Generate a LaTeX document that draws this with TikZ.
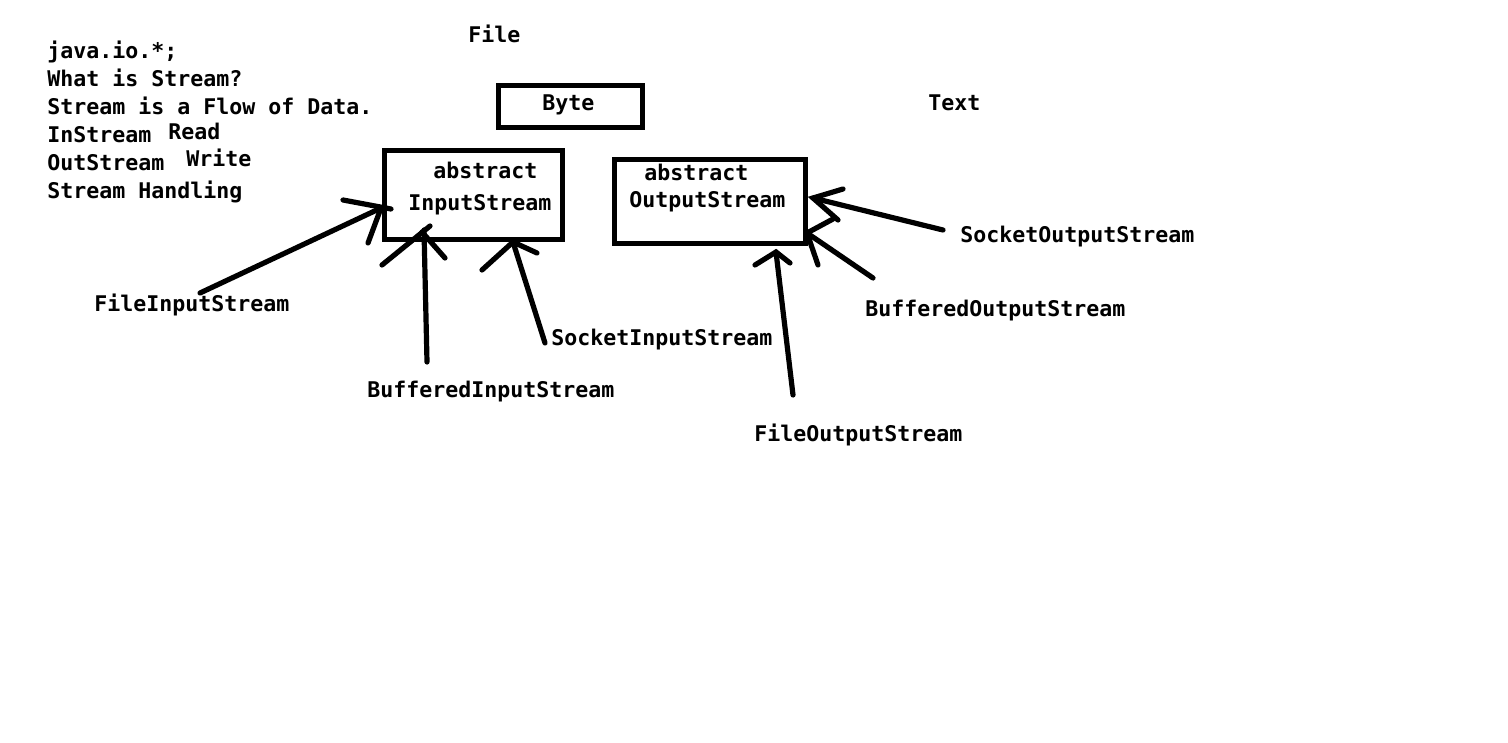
\documentclass[tikz,border=0pt]{standalone}
\usepackage{fontspec}
\setmainfont{DejaVu Sans Mono}
\begin{document}
\begin{tikzpicture}[x=0.75pt,y=-0.75pt,
  txt/.style={anchor=base west,inner sep=0pt,font=\bfseries\fontsize{16.2}{19}\selectfont},
  box/.style={draw,line width=3.9pt,inner sep=0pt},
  shaft/.style={line width=3.9pt,line cap=round},
  barb/.style={line width=3.9pt,line cap=round}]
\fill[white] (0,0) rectangle (1508,742);
\useasboundingbox (0,0) rectangle (1508,742);
% left notes
\node[txt] (java) at (47,59) {java.io.*;};
\node[txt] (what) at (47,86) {What is Stream?};
\node[txt] (flow) at (47,114) {Stream is a Flow of Data.};
\node[txt] (instr) at (47,142) {InStream};
\node[txt] (read) at (168,139) {Read};
\node[txt] (outstr) at (47,170) {OutStream};
\node[txt] (write) at (186,166) {Write};
\node[txt] (handling) at (47,198) {Stream Handling};
% headings
\node[txt] (file) at (468,43) {File};
\node[txt] (text) at (928,110) {Text};
% boxes
\node[box,minimum width=108pt,minimum height=31.5pt] (bytebox) at (570.5,106.5) {};
\node[txt] (bytelbl) at (542,110) {Byte};
\node[box,minimum width=133.5pt,minimum height=66.75pt] (inbox) at (473.5,195) {};
\node[txt] (inabs) at (433,178) {abstract};
\node[txt] (inname) at (408,210) {InputStream};
\node[box,minimum width=143.25pt,minimum height=63pt] (outbox) at (710,201.5) {};
\node[txt] (outabs) at (644,180) {abstract};
\node[txt] (outname) at (629,207) {OutputStream};
% subclass labels
\node[txt] (fis) at (94,311) {FileInputStream};
\node[txt] (bis) at (367,397) {BufferedInputStream};
\node[txt] (sis) at (551,345) {SocketInputStream};
\node[txt] (fos) at (754,441) {FileOutputStream};
\node[txt] (bos) at (865,316) {BufferedOutputStream};
\node[txt] (sos) at (960,242) {SocketOutputStream};
% arrow ends
\coordinate (fisS) at (200,293);  \coordinate (fisT) at (381,208);
\coordinate (bisS) at (427,362);  \coordinate (bisT) at (424,230);
\coordinate (sisS) at (545,343);  \coordinate (sisT) at (513,242);
\coordinate (fosS) at (793,395);  \coordinate (fosT) at (776,252);
\coordinate (bosS) at (873,278);  \coordinate (bosT) at (807,233);
\coordinate (sosS) at (943,230);  \coordinate (sosT) at (813,198);
% shafts
\draw[shaft] (fisS) -- (fisT);
\draw[shaft] (bisS) -- (bisT);
\draw[shaft] (sisS) -- (sisT);
\draw[shaft] (fosS) -- (fosT);
\draw[shaft] (bosS) -- (bosT);
\draw[shaft] (sosS) -- (sosT);
% hand-drawn heads
\draw[barb] (343,200) -- (391,209);
\draw[barb] (368,243) -- (fisT);
\draw[barb] (382,265) -- (430,226);
\draw[barb] (422,232) -- (445,258);
\draw[barb] (482,270) -- (sisT) -- (537,253);
\draw[barb] (755,265) -- (fosT) -- (790,263);
\draw[barb] (833,219) -- (bosT) -- (818,265);
\draw[barb] (843,189) -- (sosT) -- (838,220);
\end{tikzpicture}
\end{document}
